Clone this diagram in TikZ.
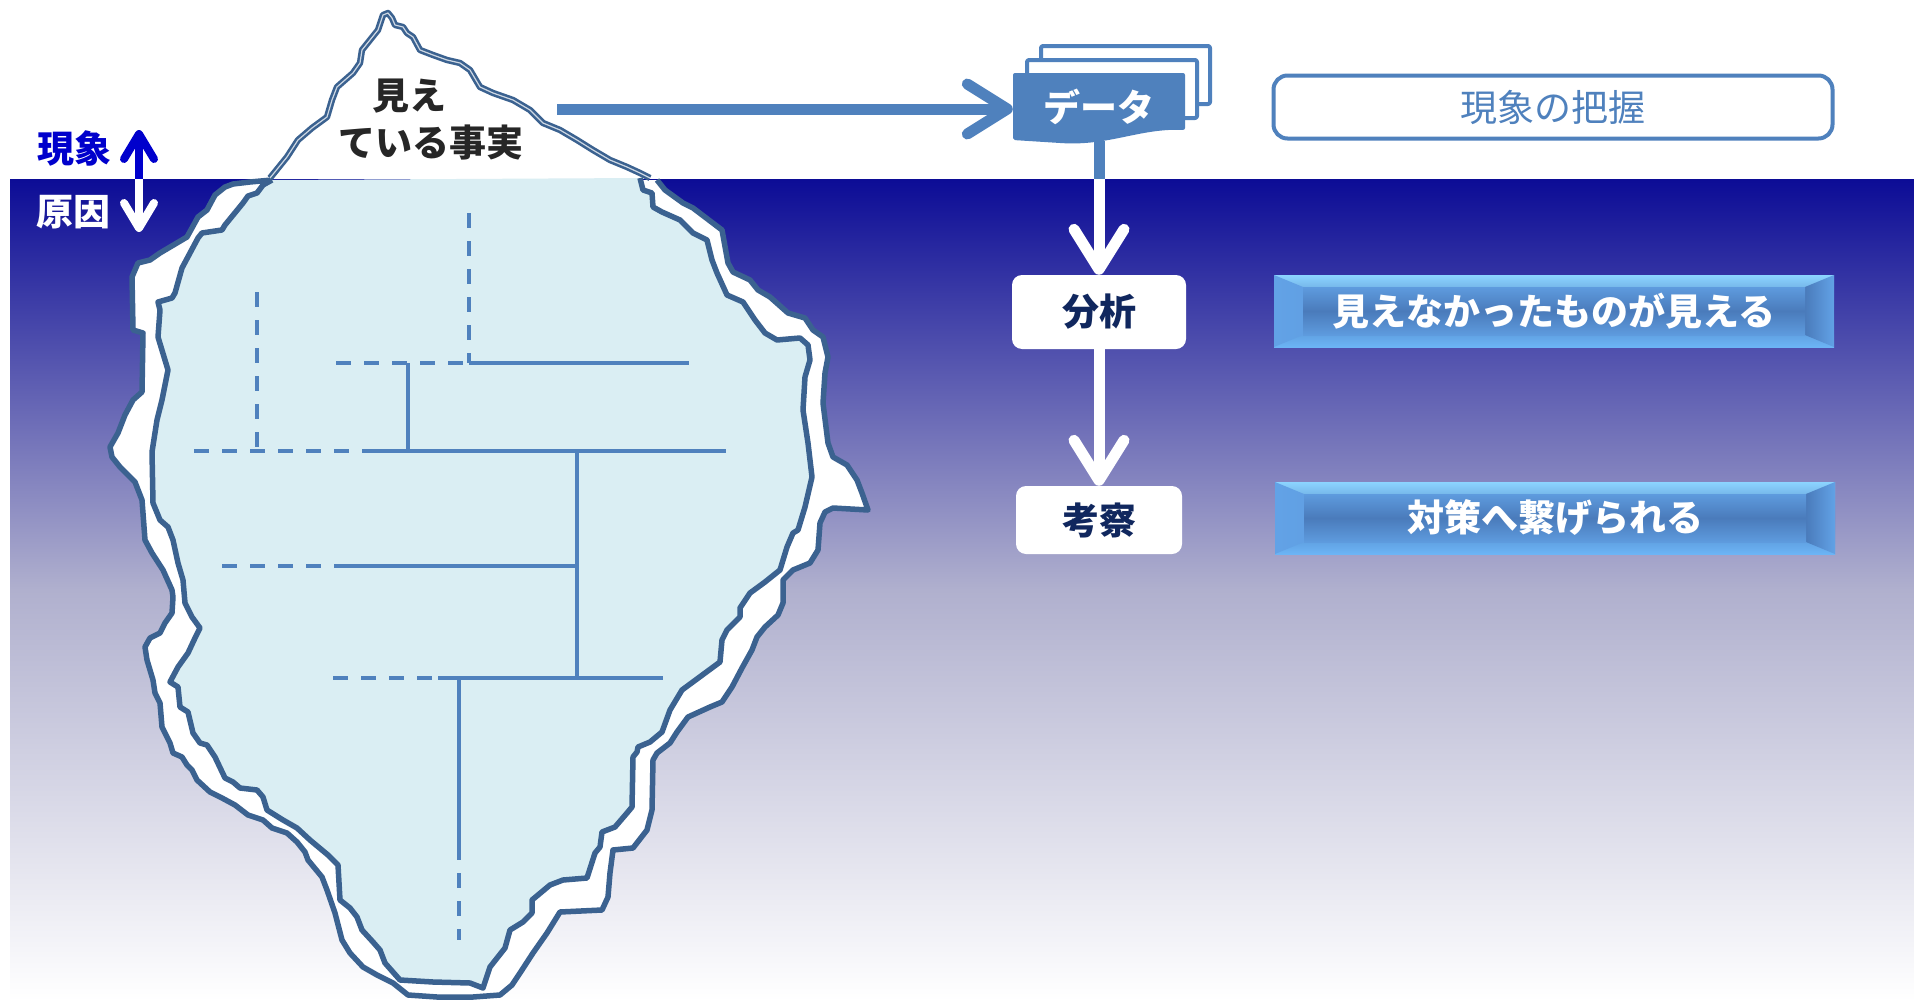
\documentclass[tikz,border=0pt]{standalone}
\usepackage{fontspec}
\newfontfamily\jp{Noto Sans CJK JP}
\usetikzlibrary{arrows.meta}

\definecolor{steel}{HTML}{4F81BD}
\definecolor{rim}{HTML}{3B6290}
\definecolor{ice}{HTML}{DAEEF3}
\definecolor{seatop}{HTML}{0C0C96}
\definecolor{seamid}{HTML}{B0B0CE}
\definecolor{navy}{HTML}{10275E}
\definecolor{ink}{HTML}{262626}
\definecolor{upblue}{HTML}{0000CC}
\definecolor{bevlite}{HTML}{8CD4FF}
\definecolor{bevmid}{HTML}{4C80C2}
\definecolor{bevlow}{HTML}{6CB4F5}
\definecolor{bevface}{HTML}{4A7BBB}
\definecolor{bevfacelite}{HTML}{5E9BDE}
\definecolor{bevside}{HTML}{62A2E6}

\newcommand\jpbig{\jp\fontsize{37}{40}\selectfont}

% white body of the berg (drawn behind)
\def\bergback{(272,180) -- (250,182) -- (233,184) -- (225,187) -- (215,195) -- (207,210)
  -- (198,217) -- (187,237) -- (160,253) -- (150,260) -- (138,263) -- (132,277)
  -- (133,330) -- (143,333) -- (142,392) -- (133,400) -- (125,415) -- (118,433)
  -- (110,447) -- (112,457) -- (120,467) -- (135,482) -- (142,500) -- (145,540)
  -- (152,553) -- (163,570) -- (172,590) -- (173,597) -- (172,613) -- (165,623)
  -- (160,633) -- (150,638) -- (145,647) -- (147,660) -- (153,680) -- (155,693)
  -- (160,703) -- (162,727) -- (170,743) -- (173,753) -- (182,757) -- (187,765)
  -- (192,770) -- (197,780) -- (210,792) -- (222,798) -- (235,805) -- (248,815)
  -- (263,820) -- (272,828) -- (287,833) -- (297,842) -- (305,852) -- (308,860)
  -- (322,877) -- (327,890) -- (335,913) -- (342,940) -- (350,953) -- (363,967)
  -- (377,975) -- (393,983) -- (408,995) -- (437,997) -- (473,997) -- (500,995)
  -- (512,985) -- (520,973) -- (533,953) -- (547,933) -- (560,912) -- (602,910)
  -- (608,897) -- (610,873) -- (613,850) -- (633,848) -- (647,830) -- (652,810)
  -- (653,760) -- (657,753) -- (670,743) -- (677,732) -- (688,717) -- (710,707)
  -- (722,702) -- (732,687) -- (742,668) -- (752,650) -- (757,637) -- (765,627)
  -- (778,615) -- (783,603) -- (783,580) -- (793,570) -- (810,563) -- (818,550)
  -- (820,523) -- (825,512) -- (833,508) -- (868,510) -- (862,493) -- (857,480)
  -- (847,465) -- (833,457) -- (828,443) -- (823,403) -- (825,373) -- (828,357)
  -- (823,337) -- (813,330) -- (805,318) -- (788,313) -- (770,297) -- (758,290)
  -- (750,280) -- (733,272) -- (728,263) -- (722,230) -- (693,208) -- (683,203)
  -- (665,190) -- (657,180)}

% light blue part under the water
\def\bergfront{(272,180) -- (263,185) -- (257,193) -- (248,196) -- (243,203) -- (225,225)
  -- (222,230) -- (202,233) -- (198,238) -- (182,268) -- (175,293) -- (172,298)
  -- (158,302) -- (160,310) -- (158,337) -- (168,370) -- (162,400) -- (157,420)
  -- (152,452) -- (153,503) -- (160,520) -- (168,527) -- (173,540) -- (178,563)
  -- (183,580) -- (185,603) -- (192,617) -- (200,628) -- (195,638) -- (188,653)
  -- (178,667) -- (170,682) -- (178,687) -- (180,707) -- (188,712) -- (193,733)
  -- (200,743) -- (207,745) -- (215,757) -- (225,778) -- (233,782) -- (240,788)
  -- (257,790) -- (263,797) -- (267,810) -- (283,820) -- (297,828) -- (310,840)
  -- (328,855) -- (338,865) -- (340,900) -- (350,908) -- (357,917) -- (362,930)
  -- (373,942) -- (380,950) -- (385,963) -- (400,980) -- (433,982) -- (470,983)
  -- (483,988) -- (490,967) -- (505,948) -- (510,930) -- (523,922) -- (532,913)
  -- (532,900) -- (550,885) -- (563,880) -- (587,878) -- (595,853) -- (600,847)
  -- (602,832) -- (615,827) -- (627,813) -- (632,807) -- (633,757) -- (637,752)
  -- (638,747) -- (650,742) -- (662,732) -- (670,710) -- (682,690) -- (720,662)
  -- (722,640) -- (727,630) -- (740,617) -- (740,608) -- (750,593) -- (765,582)
  -- (780,570) -- (787,547) -- (793,533) -- (798,530) -- (805,507) -- (812,477)
  -- (808,443) -- (803,410) -- (805,377) -- (810,360) -- (808,345) -- (800,338)
  -- (777,340) -- (765,333) -- (755,320) -- (743,302) -- (727,295) -- (717,273)
  -- (712,260) -- (707,240) -- (693,233) -- (680,220) -- (662,212) -- (653,207)
  -- (652,193) -- (643,190) -- (640,178)}

% the tip above the water
\def\bergtip{(270,178) -- (287,157) -- (298,140) -- (312,128) -- (327,117) -- (332,100)
  -- (337,87) -- (353,73) -- (360,63) -- (362,50) -- (370,40) -- (378,30) -- (383,15)
  -- (388,13) -- (392,18) -- (395,25) -- (403,27) -- (407,33) -- (413,37) -- (420,50)
  -- (433,55) -- (447,60) -- (460,63) -- (470,70) -- (480,87) -- (493,93) -- (513,100)
  -- (530,110) -- (543,123) -- (560,130) -- (577,140) -- (593,150) -- (610,160)
  -- (627,167) -- (640,173) -- (650,178)}

\begin{document}
\begin{tikzpicture}[x=1pt, y=-1pt, line join=round,
    flow/.style={line width=11pt, -{Straight Barb[length=40pt,width=50pt,round]}},
    updown/.style={line width=8pt, -{Straight Barb[length=25pt,width=30pt,round]}},
    branch/.style={steel, line width=4.5pt},
    twig/.style={branch, dash pattern=on 15pt off 13pt},
    rimline/.style={rim, line width=5.5pt},
    sidenote/.style={font=\jpbig\bfseries},
    card/.style={fill=white, rounded corners=10pt, font=\jpbig\bfseries, text=navy},
    bevelbox/.style={minimum width=560pt, minimum height=72pt, inner sep=0pt,
      font=\jpbig\bfseries, text=white,
      top color=bevlite, bottom color=bevlow, middle color=bevmid,
      path picture={
        \shade[left color=bevside, right color=bevface]
          (path picture bounding box.north west)
          -- ([shift={(29,12)}]path picture bounding box.north west)
          -- ([shift={(29,-12)}]path picture bounding box.south west)
          -- (path picture bounding box.south west) -- cycle;
        \shade[left color=bevface, right color=bevside]
          (path picture bounding box.north east)
          -- ([shift={(-29,12)}]path picture bounding box.north east)
          -- ([shift={(-29,-12)}]path picture bounding box.south east)
          -- (path picture bounding box.south east) -- cycle;
        \shade[top color=bevfacelite, bottom color=bevfacelite, middle color=bevface]
          ([shift={(29,12)}]path picture bounding box.north west)
          rectangle ([shift={(-29,-12)}]path picture bounding box.south east);
      }}]

  \useasboundingbox (0,0) rectangle (1914,1001);
  \fill[white] (0,0) rectangle (1914,1001);

  % sea
  \shade[top color=seatop, bottom color=white, middle color=seamid] (10,179) rectangle (1914,1001);

  % iceberg
  \fill[white] \bergback -- cycle;
  \draw[rimline] \bergback;
  \fill[ice] \bergfront -- cycle;
  \draw[rimline] \bergfront;
  \draw[rim, line width=2.6pt, double=white!75!rim, double distance=1.2pt] \bergtip;

  % cause tree inside the berg
  \draw[twig] (469,213) -- (469,363);
  \draw[twig] (336,363) -- (469,363);
  \draw[branch] (469,363) -- (689,363);
  \draw[branch] (408,363) -- (408,451);
  \draw[twig] (257,292) -- (257,451);
  \draw[twig] (194,451) -- (362,451);
  \draw[branch] (362,451) -- (726,451);
  \draw[branch] (577,451) -- (577,678);
  \draw[twig] (222,566) -- (348,566);
  \draw[branch] (348,566) -- (577,566);
  \draw[twig] (333,678) -- (438,678);
  \draw[branch] (438,678) -- (663,678);
  \draw[branch] (459,678) -- (459,845);
  \draw[twig] (459,845) -- (459,940);

  \node[sidenote, text=ink] (seen) at (409,96) {見え};
  \node[sidenote, text=ink] (facts) at (431,142) {ている事実};

  % phenomenon / cause marker
  \node[sidenote, text=upblue] (phenom) at (74,148) {現象};
  \node[sidenote, text=white] (cause) at (73,212) {原因};
  \coordinate (waterline) at (139,179);
  \coordinate (sky) at (139,130);
  \coordinate (deep) at (139,232);
  \draw[updown, upblue] (waterline) -- (sky);
  \draw[updown, white] (waterline) -- (deep);

  % data sheets
  \draw[steel, line width=4pt, fill=white, rounded corners=2pt] (1041,46) rectangle (1210,104);
  \draw[steel, line width=4pt, fill=white, rounded corners=2pt] (1027,60) rectangle (1197,118);
  \fill[steel, rounded corners=2pt] (1013,73) -- (1185,73) -- (1185,130)
    .. controls (1140,128) and (1110,146) .. (1060,143) -- (1013,140) -- cycle;
  \node[font=\jpbig\bfseries, text=white, minimum width=172pt, minimum height=68pt] (data) at (1099,107) {データ};

  \node[card, minimum width=174pt, minimum height=74pt] (ana) at (1099,312) {分析};
  \node[card, minimum width=166pt, minimum height=68pt] (kou) at (1099,520) {考察};

  \coordinate (seenend) at (557,109);
  \coordinate (surface) at (1099,179);
  \draw[flow, steel] (seenend) -- (seenend -| data.west);
  \draw[steel, line width=11pt] (data.south) -- (surface);
  \draw[flow, white] (surface) -- (ana);
  \draw[flow, white] (ana) -- (kou);

  % right column
  \node[draw=steel, line width=4pt, rounded corners=14pt, fill=white, minimum width=559pt,
    minimum height=63pt, font=\jpbig, text=steel] (grasp) at (1553,107) {現象の把握};
  \node[bevelbox] (unseen) at (1554,311) {見えなかったものが見える};
  \node[bevelbox] (remedy) at (1555,518) {対策へ繋げられる};
\end{tikzpicture}
\end{document}
